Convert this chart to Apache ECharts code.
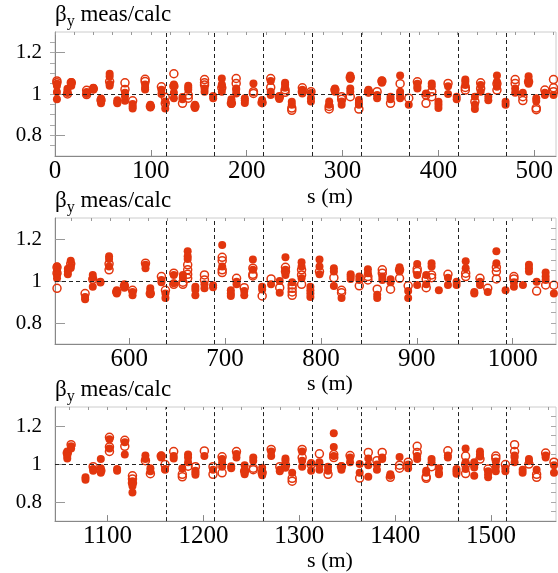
<!DOCTYPE html>
<html>
<head>
<meta charset="utf-8">
<script src="https://cdn.jsdelivr.net/npm/echarts@6/dist/echarts.min.js"></script>
<style>
  html, body { margin: 0; padding: 0; background: #fff; }
  #chart { width: 558px; height: 573px; }
</style>
</head>
<body>
<div id="chart"></div>
<script>
// ring is drawn in three equal sections (s in metres)
const sectionStart = [0, 522.6, 1045.2];
const sectionLength = 522.6;

// labelled ticks on each s axis
const xTicks1 = [0, 100, 200, 300, 400, 500];
const xTicks2 = [600, 700, 800, 900, 1000];
const xTicks3 = [1100, 1200, 1300, 1400, 1500];
const yTicks = [0.8, 1, 1.2];

// dashed vertical markers
const dashes1 = [115.6, 165.7, 216.8, 268.0, 319.1, 369.2, 420.4, 471.1];
const dashes2 = [638.2, 688.3, 739.4, 790.6, 841.7, 891.8, 943.0, 993.7];
const dashes3 = [1160.8, 1210.9, 1262.0, 1313.2, 1364.3, 1414.4, 1465.6, 1516.3];

// section 1: BPM positions, filled-marker values, open-marker values
const pos1 = [2, 13, 17, 33, 40, 48, 57, 65, 73, 81, 94, 99.5, 111, 115, 124, 133, 139, 146, 156, 165,
  174, 184, 189, 198, 207, 216, 225, 234, 240, 247, 258, 267, 286, 292, 299, 308, 317, 327, 336, 341,
  350, 360, 369, 378, 387, 393, 400, 410, 419, 428, 438, 444, 452, 461, 470, 480, 488, 494, 502, 511, 520];
const filled1 = [
  [1.05, 1.04, 1.01, 0.975], [1.025, 1.015, 1.005], [1.058, 1.05, 1.04], [1.01, 1.0], [1.03, 1.022],
  [0.978, 0.965, 0.955], [1.098, 1.085, 1.048, 1.04], [0.97, 0.96, 0.955], [1.006, 0.988, 0.967], [0.952, 0.94, 0.93],
  [1.046, 1.03, 1.022], [0.948, 0.935], [1.02, 1.0], [0.964, 0.93], [1.046, 1.04, 1.006, 0.98],
  [0.985, 0.975], [1.04, 1.03, 1.02], [0.948, 0.932], [1.027, 1.011], [0.99, 0.98],
  [1.075, 1.046, 1.04, 1.011], [0.975, 0.964, 0.952], [1.027, 1.02, 1.003], [0.98, 0.97, 0.956], [1.051],
  [0.971, 0.96], [1.063, 1.011, 0.995], [0.99, 0.976], [1.054, 1.045, 1.03], [0.963, 0.948],
  [1.02, 1.003], [1.005, 0.98, 0.964], [0.964, 0.948], [1.027, 1.011], [0.964, 0.948],
  [1.09, 1.072, 1.027, 1.011], [0.971, 0.956, 0.948], [1.02, 1.006], [0.995, 0.98], [1.067, 1.054],
  [0.987, 0.975], [1.09, 1.011, 0.995, 0.98], [0.948], [1.05, 1.035, 1.027], [1.003],
  [1.051, 1.038], [0.963, 0.948, 0.932], [1.038, 1.0], [0.987, 0.975], [1.07, 1.059, 1.043],
  [0.987, 0.948, 0.927], [1.043, 1.011], [0.987, 0.97], [1.09, 1.059, 1.035], [0.963, 0.948],
  [1.027, 1.006], [1.006], [1.086, 1.07, 1.05], [0.98, 0.966], [1.006, 0.995], [0.995]
];
const open1 = [
  [1.063, 1.055], [1.0], [1.055], [1.018, 0.997], [1.025],
  [0.97], [1.06], [], [1.054, 1.022], [0.967],
  [1.071, 1.06], [0.94], [1.035], [0.984, 0.955], [1.098, 1.038],
  [0.955], [0.995, 0.98], [0.94], [1.07, 1.054, 1.043], [],
  [1.03], [0.955], [1.075, 1.051], [], [1.011, 1.003],
  [0.958], [1.075, 1.032], [0.984], [1.02, 1.008], [0.932, 0.921],
  [1.03, 1.011], [1.011], [0.94, 0.928], [1.02], [0.987, 0.975],
  [1.08, 0.987], [0.927], [1.011], [1.011], [1.062],
  [0.955], [1.05], [0.98], [1.059], [0.995, 0.955],
  [1.011, 0.987], [], [1.051], [], [1.032, 1.019],
  [0.963], [1.054, 1.027], [], [1.05, 1.019], [],
  [1.07, 1.051], [0.987, 0.968], [1.059], [0.932, 0.924], [1.019], [1.07, 1.03, 1.011]
];

// section 2
const pos2 = [524.7, 536, 539, 554, 562, 570, 579, 587, 595, 603.5, 617, 622, 633.6, 637.8, 646.5, 656, 661, 669, 678.5, 687.5,
  697, 706, 712, 720, 729, 738.7, 748, 757, 763, 770, 779.8, 789, 798.5, 813.5, 821.5, 831, 840, 849, 858.7, 864,
  872.6, 882, 891, 900.4, 909.8, 915.4, 923, 932.5, 941.5, 951, 960, 965.9, 974, 983, 992.6, 1001.3, 1010.7, 1017, 1025, 1034.4, 1043];
const filled2 = [
  [1.07, 1.05, 1.03, 1.013], [1.058, 1.045, 1.032], [1.097, 1.069, 1.062], [0.924, 0.913], [1.029, 1.016, 0.973],
  [0.997, 0.993], [1.118, 1.105, 1.069], [0.956, 0.94], [0.984, 0.968], [0.948, 0.932],
  [1.077, 1.061], [0.965, 0.952, 0.937], [1.005, 0.994], [0.94, 0.919], [1.029, 0.989],
  [1.029, 1.016], [1.142, 1.118, 1.105], [0.973, 0.958, 0.932], [0.984, 0.965], [0.98, 0.97],
  [1.171, 1.069], [0.956, 0.94, 0.929], [0.997, 0.984], [0.952, 0.932], [1.102, 1.053],
  [0.973, 0.96], [0.985], [1.0, 0.944], [1.113, 1.053, 1.029], [0.994],
  [1.089, 1.069, 1.013], [0.973, 0.956, 0.94, 0.924], [1.102, 1.069, 1.032], [1.061, 1.045, 0.976], [0.919],
  [1.032, 1.021, 1.01], [1.021, 1.005], [1.056, 1.037], [0.935, 0.919], [1.021, 1.005],
  [1.008, 0.994], [1.065, 1.045], [0.952, 0.919], [1.081, 1.029, 0.981], [1.029, 0.984],
  [1.085, 1.069], [0.956], [1.016, 0.981], [0.997, 0.981], [1.094, 1.061],
  [0.948, 0.94], [0.997, 0.981], [0.948], [1.142, 1.085], [0.956],
  [0.994, 0.973], [0.981], [1.077, 1.061, 1.045], [0.997], [1.04, 1.021, 1.005], [0.94]
];
const open2 = [
  [1.065, 1.037, 0.965], [], [1.082], [0.94], [1.008],
  [], [1.082, 1.053], [0.948], [0.976], [0.956],
  [1.085], [0.94], [1.021], [0.956], [1.037, 0.984],
  [0.994, 0.984], [1.077, 1.053, 1.032, 1.013], [], [1.029, 1.005], [],
  [1.113, 1.097, 1.053, 1.04], [], [1.013], [0.968], [1.061, 1.032, 1.024],
  [0.929], [1.01], [0.968], [1.065, 1.045], [0.981, 0.965, 0.948, 0.932],
  [1.053, 1.029, 0.984], [], [1.045], [1.016], [0.956, 0.944],
  [], [0.977], [1.021, 1.005], [0.961], [1.053, 1.037],
  [0.961], [1.053, 1.013], [0.977], [1.058, 1.045], [1.01, 0.968],
  [1.029, 1.016], [], [1.032], [], [1.037, 1.021],
  [], [1.013], [0.965], [1.065, 1.045, 1.01], [],
  [1.021, 1.01], [], [], [0.952], [0.981], [0.98]
];

// section 3
const pos3 = [1058, 1062, 1077, 1085, 1093, 1102, 1110, 1118, 1126, 1139.5, 1144.7, 1156, 1160, 1169, 1178, 1184, 1191.7, 1201, 1210, 1219.5,
  1229, 1234.5, 1243, 1252, 1261.3, 1270.7, 1279.7, 1285.6, 1292.6, 1303, 1312.4, 1321, 1330, 1336, 1344, 1353, 1363, 1372, 1381, 1386.5,
  1395, 1404.6, 1413.6, 1423, 1432.4, 1438, 1445.7, 1455, 1464, 1473.5, 1482.5, 1488.5, 1497, 1505, 1515, 1524.6, 1533, 1539.6, 1547.6, 1557, 1565.7];
const filled3 = [
  [1.066, 1.053, 1.042, 1.029], [1.093, 1.082], [0.93, 0.917], [0.974, 0.965], [1.026, 0.978, 0.954],
  [1.13, 1.082], [0.974, 0.965], [1.114, 1.05], [0.91, 0.885, 0.85], [1.045, 1.026],
  [0.978, 0.962], [1.045, 1.034], [0.974, 0.97], [1.042, 1.029], [0.978],
  [1.05, 1.034, 1.01], [0.965, 0.954, 0.944], [1.042], [0.97], [1.026, 1.006, 0.986],
  [0.989, 0.978], [1.053, 1.034], [0.994, 0.97, 0.946], [1.034, 1.018], [0.981, 0.962, 0.941],
  [1.066, 1.042], [0.97, 0.962], [1.029, 1.018, 0.981], [0.954], [1.066, 1.018, 0.986],
  [1.006, 0.965], [1.01, 0.994, 0.97], [0.986, 0.965], [1.162, 1.09, 1.042], [0.989, 0.97],
  [1.034, 1.01], [1.0, 0.954], [1.029, 0.994, 0.933], [0.997, 0.97], [1.034, 1.026],
  [0.946, 0.938], [1.037], [0.997, 0.978], [1.042, 1.026], [0.965, 0.954],
  [1.026, 1.01], [0.978, 0.954, 0.946], [1.045, 1.034], [0.974, 0.962, 0.949], [1.082, 1.01, 0.974],
  [1.01, 0.994, 0.982, 0.938], [1.066, 1.05, 1.04], [0.962, 0.946, 0.93], [1.013, 0.986, 0.962], [0.978, 0.962],
  [1.045, 1.034, 1.01], [0.97, 0.954], [1.026, 1.016], [0.97], [1.045, 1.034], [0.994, 0.954]
];
const open3 = [
  [1.058], [1.102], [], [0.986], [0.965],
  [1.141, 1.09, 1.066], [], [1.125, 1.093], [0.938, 0.922, 0.9], [1.018],
  [0.949], [1.042], [0.997], [1.066], [0.946, 0.933],
  [0.989], [0.986], [1.069], [0.986, 0.946], [1.038, 0.954],
  [], [1.066], [0.962], [0.978, 0.97], [0.954],
  [1.077], [0.986], [0.994], [0.925, 0.91], [1.077, 1.034],
  [0.997], [1.054], [0.946], [1.05, 1.034], [0.986],
  [1.045], [0.926], [1.061], [1.018], [1.061],
  [0.93], [0.994, 0.978], [1.01], [1.093, 1.061], [0.933, 0.925],
  [0.986], [], [1.07], [], [1.042, 0.997, 0.95],
  [], [1.026], [0.974], [1.042, 1.029], [0.997],
  [1.102, 1.066], [], [1.0], [0.946, 0.93], [1.058], [1.01]
];

const red = '#e2360e';
const serif = 'Liberation Serif';
const gridTops = [32, 218, 407];
const gridHeights = [124, 126, 124];
const nameGaps = [30, 26, 22];
const titleTops = [3, 189, 378];

function points(pos, vals) {
  var out = [];
  for (var i = 0; i < pos.length; i++) {
    for (var j = 0; j < vals[i].length; j++) {
      out.push([pos[i], vals[i][j]]);
    }
  }
  return out;
}

function minorTicks(from, to, step) {
  var out = [];
  var start = Math.ceil(from / step - 1e-9);
  for (var k = start; k * step <= to + 1e-9; k++) {
    out.push(+(k * step).toFixed(4));
  }
  return out;
}

const panels = [
  { pos: pos1, filled: filled1, open: open1, ticks: xTicks1, dashes: dashes1 },
  { pos: pos2, filled: filled2, open: open2, ticks: xTicks2, dashes: dashes2 },
  { pos: pos3, filled: filled3, open: open3, ticks: xTicks3, dashes: dashes3 }
];

var grid = [], xAxis = [], yAxis = [], series = [], title = [];

panels.forEach(function (p, k) {
  var smin = sectionStart[k];
  var smax = smin + sectionLength;

  grid.push({
    left: 55, width: 501, top: gridTops[k], height: gridHeights[k],
    show: true, borderColor: '#cccccc', borderWidth: 1
  });

  title.push({
    left: 55, top: titleTops[k], padding: 0,
    text: '{b|β}{s|y}{t| meas/calc}',
    textStyle: {
      fontWeight: 'normal',
      rich: {
        b: { fontFamily: serif, fontSize: 23, fontWeight: 'normal', color: '#000', lineHeight: 24, verticalAlign: 'top' },
        s: { fontFamily: serif, fontSize: 16, fontWeight: 'normal', color: '#000', lineHeight: 24, verticalAlign: 'top', padding: [11, 0, 0, 0] },
        t: { fontFamily: serif, fontSize: 23, fontWeight: 'normal', color: '#000', lineHeight: 24, verticalAlign: 'top' }
      }
    }
  });

  // main x axis: labels and long ticks
  xAxis.push({
    type: 'value', gridIndex: k, min: smin, max: smax,
    axisLine: { show: true, lineStyle: { color: '#888', width: 1 } },
    axisTick: { show: true, inside: true, length: 6, customValues: p.ticks, lineStyle: { color: '#888' } },
    axisLabel: { customValues: p.ticks, color: '#000', fontFamily: serif, fontSize: 25, margin: 3,
      formatter: function (v) { return String(Math.round(v)); } },
    splitLine: { show: false },
    name: 's (m)', nameLocation: 'middle', nameGap: nameGaps[k],
    nameTextStyle: { color: '#000', fontFamily: serif, fontSize: 22, padding: [0, 0, 0, 49] }
  });
  // minor ticks every 20 m
  xAxis.push({
    type: 'value', gridIndex: k, min: smin, max: smax,
    axisLine: { show: false },
    axisTick: { show: true, inside: true, length: 3, customValues: minorTicks(smin, smax, 20), lineStyle: { color: '#999' } },
    axisLabel: { show: false },
    splitLine: { show: false }
  });

  yAxis.push({
    type: 'value', gridIndex: k, min: 0.7, max: 1.3,
    axisLine: { show: true, lineStyle: { color: '#888', width: 1 } },
    axisTick: { show: true, inside: true, length: 10, customValues: yTicks, lineStyle: { color: '#999' } },
    axisLabel: { customValues: yTicks, color: '#000', fontFamily: serif, fontSize: 21, margin: 13,
      formatter: function (v) { return String(+v.toFixed(2)); } },
    splitLine: { show: false }
  });
  yAxis.push({
    type: 'value', gridIndex: k, min: 0.7, max: 1.3,
    axisLine: { show: false },
    axisTick: { show: true, inside: true, length: 5, customValues: minorTicks(0.75, 1.25, 0.05), lineStyle: { color: '#aaa' } },
    axisLabel: { show: false },
    splitLine: { show: false }
  });

  // dashed guide lines
  series.push({
    type: 'scatter', xAxisIndex: 2 * k, yAxisIndex: 2 * k, data: [], z: 1, silent: true,
    markLine: {
      silent: true, symbol: ['none', 'none'], label: { show: false },
      lineStyle: { type: [4, 3], color: '#222', width: 1 },
      animation: false,
      data: p.dashes.map(function (v) { return { xAxis: v }; }).concat([{ yAxis: 1 }])
    }
  });
  series.push({
    type: 'scatter', xAxisIndex: 2 * k, yAxisIndex: 2 * k, z: 3,
    symbol: 'circle', symbolSize: 8,
    itemStyle: { color: red, opacity: 1 },
    data: points(p.pos, p.filled)
  });
  // open markers: ring only, no fill
  series.push({
    type: 'scatter', xAxisIndex: 2 * k, yAxisIndex: 2 * k, z: 4,
    symbol: 'circle', symbolSize: 8,
    itemStyle: { color: 'rgba(255,255,255,0)', borderColor: red, borderWidth: 1.5, opacity: 1 },
    data: points(p.pos, p.open)
  });
});

const chart = echarts.init(document.getElementById('chart'));
chart.setOption({
  animation: false,
  backgroundColor: '#fff',
  title: title,
  grid: grid,
  xAxis: xAxis,
  yAxis: yAxis,
  series: series
});
</script>
</body>
</html>
